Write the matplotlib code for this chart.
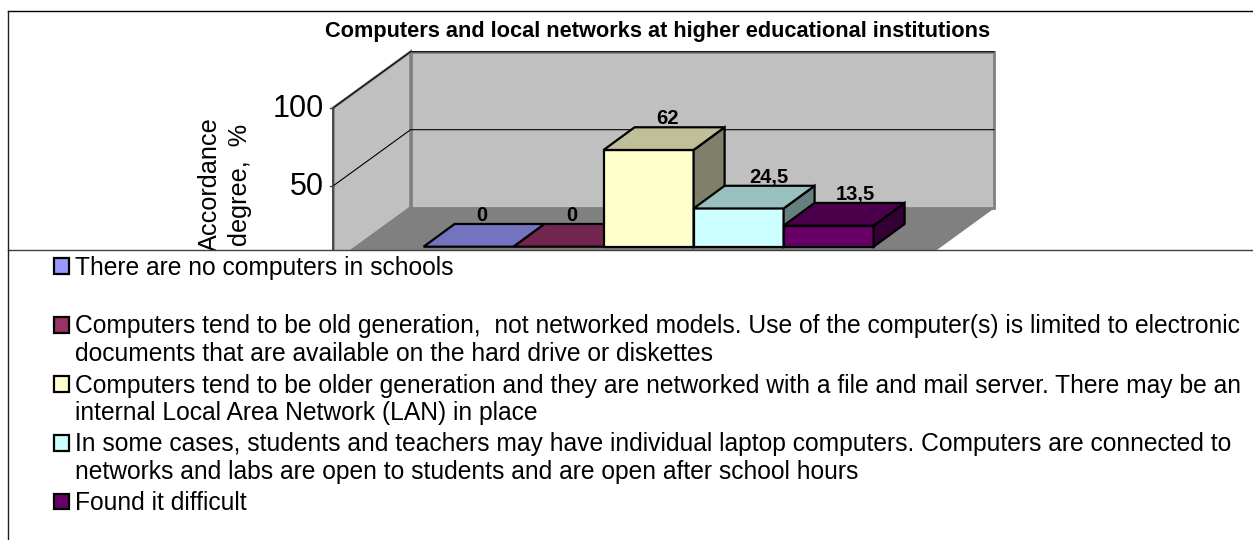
import matplotlib
matplotlib.use("Agg")
import matplotlib.pyplot as plt
from matplotlib.patches import Polygon, Rectangle

plt.rcParams['font.family'] = ['Liberation Sans', 'DejaVu Sans']

title = "Computers and local networks at higher educational institutions"
y_label = "Accordance\ndegree,  %"
y_ticks = [50, 100]
values = [0, 0, 62, 24.5, 13.5]
value_labels = ["0", "0", "62", "24,5", "13,5"]
legend_labels = [
    "There are no computers in schools",
    "Computers tend to be old generation,  not networked models. Use of the computer(s) is limited to electronic\ndocuments that are available on the hard drive or diskettes",
    "Computers tend to be older generation and they are networked with a file and mail server. There may be an\ninternal Local Area Network (LAN) in place",
    "In some cases, students and teachers may have individual laptop computers. Computers are connected to\nnetworks and labs are open to students and are open after school hours",
    "Found it difficult",
]
front_colors = ["#7373C0", "#72264F", "#FFFFCC", "#CCFFFF", "#660066"]
top_colors = ["#7373C0", "#72264F", "#BFBF99", "#99BFBF", "#4C004C"]
side_colors = ["#5656A0", "#551C3B", "#80806A", "#668080", "#330033"]
legend_colors = ["#9999FF", "#993366", "#FFFFCC", "#CCFFFF", "#660066"]

W, H = 1253, 540
BAR_PX = 90.0      # one category, in pixels
VAL_PX = 1.56      # one percent, in pixels
X0, Y0 = 423.6, 246.7  # where category 0, value 0 sits
label_shift = [13, 13, 19, 30, 27]  # data labels are not centred on the bars


def fx(px):
    return (px - X0) / BAR_PX


def fy(py):
    return (Y0 - py) / VAL_PX


fig = plt.figure(figsize=(W / 100, H / 100), dpi=100)
ax = fig.add_axes([0, 0, 1, 1])
ax.set_xlim(fx(0), fx(W))
ax.set_ylim(fy(H), fy(0))
ax.axis("off")

# bar depth and wall depth, in data units
bar_dx, bar_dy = 31 / BAR_PX, 22.7 / VAL_PX
wall_dx, wall_dy = 77.2 / BAR_PX, 56 / VAL_PX
front_x, front_y = fx(333.4), fy(263.7)
back_x, back_y = front_x + wall_dx, front_y + wall_dy
back_r = fx(994)
top = 100

edge = "#808080"
ax.add_patch(Polygon([(front_x, front_y), (back_x, back_y), (back_r, back_y), (back_r - wall_dx, front_y)],
                     fc="#808080", ec=edge, lw=1, zorder=1))
ax.add_patch(Polygon([(back_x, back_y), (back_r, back_y), (back_r, back_y + top), (back_x, back_y + top)],
                     fc="#C0C0C0", ec=edge, lw=2, zorder=1))
ax.add_patch(Polygon([(front_x, front_y), (back_x, back_y), (back_x, back_y + top), (front_x, front_y + top)],
                     fc="#C0C0C0", ec=edge, lw=2, zorder=1))

for t in y_ticks:
    ax.plot([front_x, back_x, back_r], [front_y + t, back_y + t, back_y + t], color="black", lw=0.8, zorder=2)
    ax.plot([front_x - 0.035, front_x], [front_y + t, front_y + t], color="#404040", lw=1, zorder=2)
    ax.text(fx(324), front_y + t - 1, str(t), ha="right", va="center", fontsize=22, zorder=2)
ax.plot([front_x, front_x], [front_y, front_y + top], color="#404040", lw=1.2, zorder=2)

ax.text(fx(225), fy(184.5), y_label, rotation=90, ha="center", va="center", fontsize=18.2,
        linespacing=1.35, multialignment="center", zorder=2)

for i, v in enumerate(values):
    z = 3 + i
    if v > 0:
        ax.add_patch(Polygon([(i, 0), (i + 1, 0), (i + 1, v), (i, v)],
                             fc=front_colors[i], ec="black", lw=1.6, joinstyle="miter", zorder=z))
        ax.add_patch(Polygon([(i + 1, 0), (i + 1 + bar_dx, bar_dy), (i + 1 + bar_dx, v + bar_dy), (i + 1, v)],
                             fc=side_colors[i], ec="black", lw=1.6, joinstyle="miter", zorder=z))
    ax.add_patch(Polygon([(i, v), (i + 1, v), (i + 1 + bar_dx, v + bar_dy), (i + bar_dx, v + bar_dy)],
                         fc=top_colors[i], ec="black", lw=1.6, joinstyle="miter", zorder=z))
for i, (v, lab) in enumerate(zip(values, value_labels)):
    ax.text(i + 0.5 + label_shift[i] / BAR_PX, v + bar_dy - 0.5, lab, ha="center", va="bottom", fontsize=14.5,
            fontweight="bold", zorder=10)

# legend panel sits on top of the plot and clips its lower part
ax.add_patch(Rectangle((fx(8), fy(540)), fx(W) - fx(8), fy(250) - fy(540), fc="white", ec="none", zorder=11))
ax.plot([fx(8), fx(W)], [fy(250), fy(250)], color="#404040", lw=1, zorder=12)
ax.plot([fx(8), fx(8)], [fy(11), fy(540)], color="#202020", lw=1, zorder=12)
ax.plot([fx(8), fx(W)], [fy(11), fy(11)], color="black", lw=1, zorder=12)

ax.text(fx(657.5), fy(31), title, ha="center", va="center", fontsize=15.7, fontweight="bold", zorder=12)

legend_y = [266, 325, 384, 443, 502]
for lab, col, py in zip(legend_labels, legend_colors, legend_y):
    ax.add_patch(Rectangle((fx(54), fy(py + 7.5)), 15.5 / BAR_PX, 15.5 / VAL_PX, fc=col, ec="black", lw=1.6, zorder=12))
    ax.text(fx(75), fy(py - 10.5), lab, ha="left", va="top", fontsize=17.7, linespacing=1.2, zorder=12)

fig.savefig("out.png", dpi=100)
